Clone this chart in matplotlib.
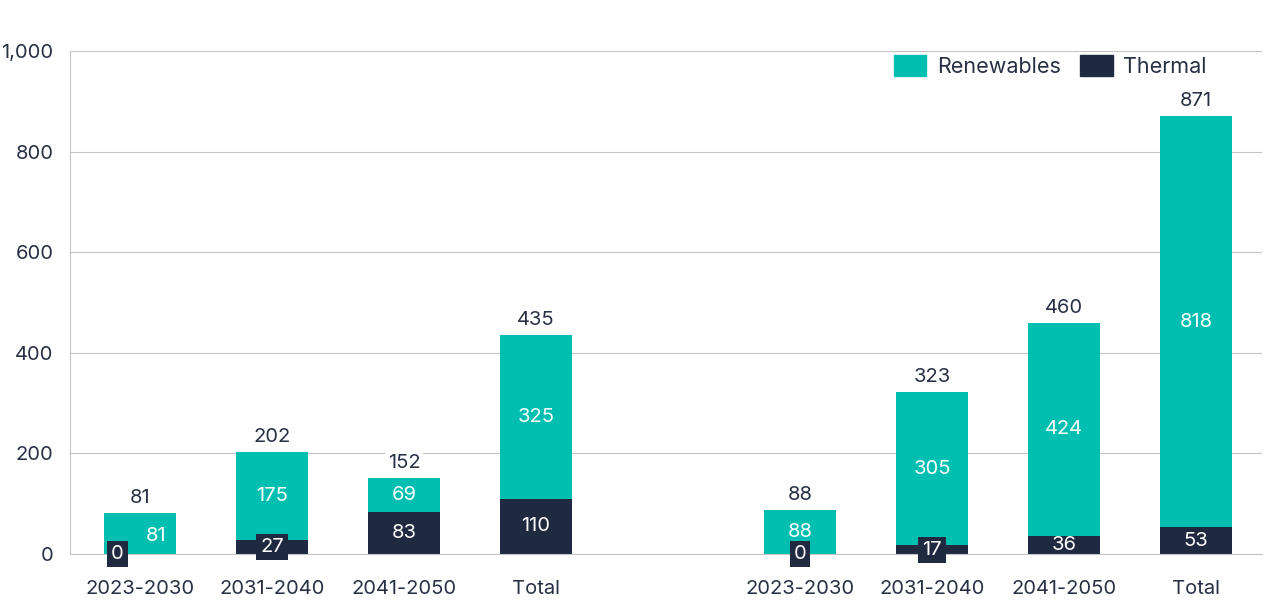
import matplotlib.pyplot as plt
from matplotlib.patches import Patch

plt.rcParams['font.family'] = ['Inter', 'DejaVu Sans']

# data
categories = ['2023-2030', '2031-2040', '2041-2050', 'Total',
              '2023-2030', '2031-2040', '2041-2050', 'Total']
positions = [0, 1, 2, 3, 5, 6, 7, 8]
thermal = [0, 27, 83, 110, 0, 17, 36, 53]
renewables = [81, 175, 69, 325, 88, 305, 424, 818]
totals = [81, 202, 152, 435, 88, 323, 460, 871]

TEAL = '#00bfb0'
NAVY = '#1f2940'
TXT = '#283044'
GRID = '#c4c4c4'

fig = plt.figure(figsize=(12.69, 6.08), dpi=100)
ax = fig.add_axes([0.0552, 0.0888, 0.9393, 0.8272])

ax.bar(positions, thermal, width=0.55, color=NAVY, zorder=2)
ax.bar(positions, renewables, width=0.55, bottom=thermal, color=TEAL, zorder=2)

fs = 14.5
for x, t, r, tot in zip(positions, thermal, renewables, totals):
    # total on top
    ax.text(x, tot + 12, str(tot), ha='center', va='bottom', fontsize=fs, color=TXT,
            bbox=dict(boxstyle='square,pad=0.15', fc='white', ec='none'), zorder=3)
    # thermal: small segments get a dark box
    if t < 30:
        tx = x - 0.17 if x == 0 else x
        ax.text(tx, t / 2, str(t), ha='center', va='center', fontsize=fs,
                color='white', zorder=4,
                bbox=dict(boxstyle='square,pad=0.2', fc=NAVY, ec='none'))
    else:
        ax.text(x, t / 2, str(t), ha='center', va='center', fontsize=fs,
                color='white', zorder=4)
    # renewables
    rx = x + 0.12 if x == 0 else x
    ry = t + r / 2 if x != 0 else r * 0.45
    ax.text(rx, ry, str(r), ha='center', va='center', fontsize=fs, color='white', zorder=4)

ax.set_xlim(-0.53, 8.5)
ax.set_ylim(0, 1000)
ax.set_yticks([0, 200, 400, 600, 800, 1000])
ax.set_yticklabels(['0', '200', '400', '600', '800', '1,000'])
ax.set_xticks(positions)
ax.set_xticklabels(categories)
ax.tick_params(axis='both', length=0, labelsize=fs, colors=TXT)
ax.tick_params(axis='x', pad=19)
ax.tick_params(axis='y', pad=12)
ax.grid(axis='y', color=GRID, linewidth=0.8, zorder=0)
ax.set_axisbelow(True)
for s in ['top', 'right']:
    ax.spines[s].set_visible(False)
ax.spines['left'].set_color(GRID)
ax.spines['bottom'].set_color(GRID)

handles = [Patch(color=TEAL, label='Renewables'), Patch(color=NAVY, label='Thermal')]
ax.legend(handles=handles, loc='upper right', bbox_to_anchor=(0.97, 1.03), ncol=2,
          frameon=False, fontsize=15.5, handlelength=1.5, handleheight=1.1,
          columnspacing=0.9, handletextpad=0.5, labelcolor=TXT)

fig.savefig('out.png', dpi=100)
